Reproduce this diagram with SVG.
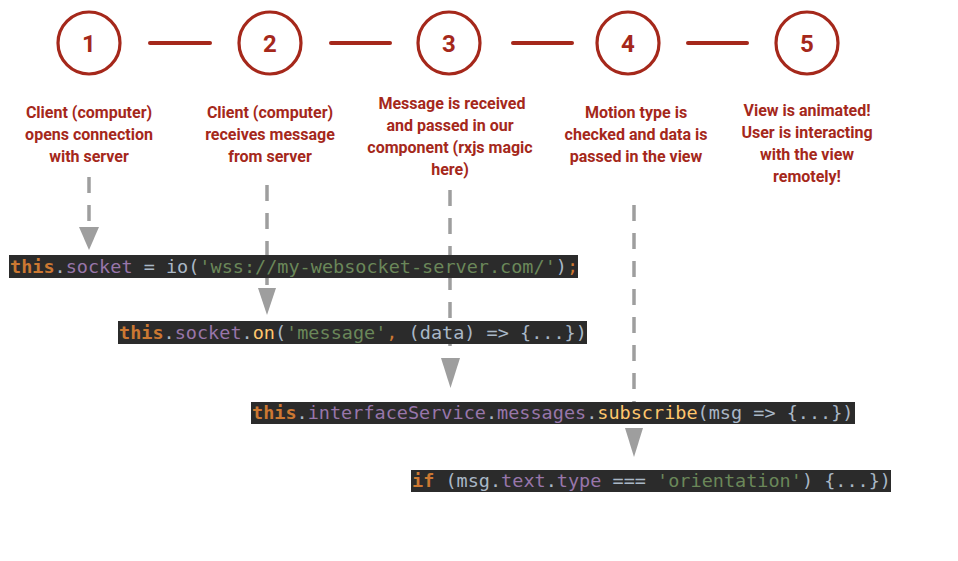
<svg xmlns="http://www.w3.org/2000/svg" width="958" height="561" viewBox="0 0 958 561">
<style>
.step circle{fill:#fff;stroke:#a5281b;stroke-width:3.2}
.num{font-family:Roboto,"Liberation Sans",sans-serif;font-weight:bold;font-size:24px;fill:#a5281b;text-anchor:middle}
.lbl{font-family:Roboto,"Liberation Sans",sans-serif;font-weight:bold;font-size:16px;fill:#a5281b;text-anchor:middle}
.link{stroke:#a5281b;stroke-width:4;stroke-linecap:round}
.dash{stroke:#9e9e9e;stroke-width:3.5;stroke-dasharray:16 12;fill:none}
.head{fill:#9e9e9e}
.box{fill:#2b2b2b}
.code{font-family:"DejaVu Sans Mono","Liberation Mono",monospace;font-size:18.5px;fill:#a9b7c6;white-space:pre}
.k{fill:#cc7832;font-weight:bold}
.p{fill:#9876aa}
.s{fill:#6a8759}
.m{fill:#ffc66d}
.o{fill:#cc7832}
</style>
<g id="links">
<line class="link" x1="150" y1="43" x2="210" y2="43"/>
<line class="link" x1="331" y1="43" x2="390" y2="43"/>
<line class="link" x1="513" y1="43" x2="572" y2="43"/>
<line class="link" x1="688" y1="43" x2="747" y2="43"/>
</g>
<g id="step1" class="step"><circle cx="89" cy="43" r="31"/><text class="num" x="89" y="52">1</text>
<text class="lbl"><tspan x="89" y="118">Client (computer)</tspan><tspan x="89" y="140">opens connection</tspan><tspan x="89" y="162">with server</tspan></text></g>
<g id="step2" class="step"><circle cx="270" cy="43" r="31"/><text class="num" x="270" y="52">2</text>
<text class="lbl"><tspan x="270" y="118">Client (computer)</tspan><tspan x="270" y="140">receives message</tspan><tspan x="270" y="162">from server</tspan></text></g>
<g id="step3" class="step"><circle cx="449" cy="43" r="31"/><text class="num" x="449" y="52">3</text>
<text class="lbl"><tspan x="452" y="109">Message is received</tspan><tspan x="450" y="131">and passed in our</tspan><tspan x="450" y="153">component (rxjs magic</tspan><tspan x="450" y="175">here)</tspan></text></g>
<g id="step4" class="step"><circle cx="628" cy="43" r="31"/><text class="num" x="628" y="52">4</text>
<text class="lbl"><tspan x="636" y="118">Motion type is</tspan><tspan x="636" y="140">checked and data is</tspan><tspan x="636" y="162">passed in the view</tspan></text></g>
<g id="step5" class="step"><circle cx="807" cy="43" r="31"/><text class="num" x="807" y="52">5</text>
<text class="lbl"><tspan x="807" y="116">View is animated!</tspan><tspan x="807" y="138">User is interacting</tspan><tspan x="807" y="160">with the view</tspan><tspan x="807" y="182">remotely!</tspan></text></g>
<g id="connectors">
<line class="dash" x1="89" y1="177" x2="89" y2="228"/><polygon class="head" points="79,227 99,227 89,250"/>
<line class="dash" x1="267" y1="185" x2="267" y2="289"/><polygon class="head" points="258,288 276,288 267,315"/>
<line class="dash" x1="450" y1="190" x2="450" y2="359"/><polygon class="head" points="441,358 460,358 450.5,388"/>
<line class="dash" x1="634" y1="205" x2="634" y2="429"/><polygon class="head" points="625,428 643,428 634,457"/>
</g>
<g id="code1"><rect class="box" x="9" y="255" width="569" height="23"/>
<text class="code" x="10" y="273"><tspan class="k">this</tspan>.<tspan class="p">socket</tspan> = io(<tspan class="s">'wss://my-websocket-server.com/'</tspan>)<tspan class="o">;</tspan></text></g>
<g id="code2"><rect class="box" x="118" y="321" width="469" height="23"/>
<text class="code" x="119" y="339"><tspan class="k">this</tspan>.<tspan class="p">socket</tspan>.<tspan class="m">on</tspan>(<tspan class="s">'message'</tspan><tspan class="o">,</tspan> (data) =&gt; {...})</text></g>
<g id="code3"><rect class="box" x="251" y="402" width="604" height="22"/>
<text class="code" x="252" y="419"><tspan class="k">this</tspan>.<tspan class="p">interfaceService</tspan>.<tspan class="p">messages</tspan>.<tspan class="m">subscribe</tspan>(msg =&gt; {...})</text></g>
<g id="code4"><rect class="box" x="411" y="470" width="480" height="22"/>
<text class="code" x="412" y="487"><tspan class="k">if</tspan> (msg.<tspan class="p">text</tspan>.<tspan class="p">type</tspan> === <tspan class="s">'orientation'</tspan>) {...})</text></g>
</svg>
